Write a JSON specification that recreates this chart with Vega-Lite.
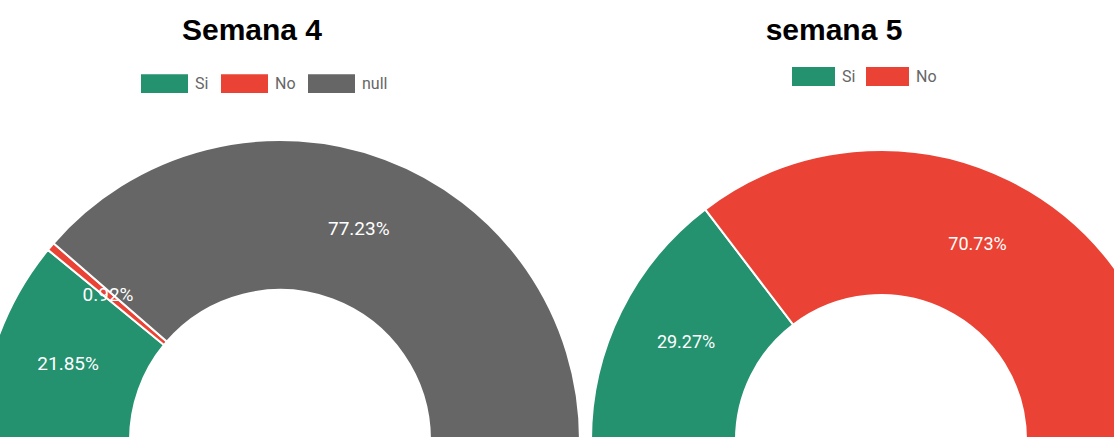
{
  "$schema": "https://vega.github.io/schema/vega-lite/v6.json",
  "background": "white",
  "padding": {"top": 16, "left": -24, "right": 0, "bottom": 0},
  "spacing": 3,
  "config": {"view": {"stroke": null}, "font": "Liberation Sans"},
  "datasets": {
    "semana4": [
      {"respuesta": "Si", "valor": 0.2185, "orden": 1},
      {"respuesta": "No", "valor": 0.0092, "orden": 2},
      {"respuesta": "null", "valor": 0.7723, "orden": 3}
    ],
    "semana5": [
      {"respuesta": "Si", "valor": 0.2927, "orden": 1},
      {"respuesta": "No", "valor": 0.7073, "orden": 2}
    ]
  },
  "resolve": {"scale": {"color": "independent", "theta": "independent", "y": "independent"}, "legend": {"color": "independent"}},
  "hconcat": [
    {
      "width": 600,
      "height": 340,
      "title": {"text": "Semana 4", "fontSize": 30, "fontWeight": "bold", "font": "Liberation Sans", "color": "#000000", "anchor": "middle", "frame": "group", "dx": -28, "offset": 14},
      "data": {"name": "semana4"},
      "encoding": {
        "theta": {"field": "valor", "type": "quantitative", "stack": true, "scale": {"domain": [0, 1], "range": [-1.5708, 1.5708]}},
        "order": {"field": "orden", "type": "quantitative"},
        "y": {"datum": 0, "type": "quantitative", "scale": {"domain": [0, 1]}, "axis": null}
      },
      "layer": [
        {
          "mark": {"type": "arc", "outerRadius": 300, "innerRadius": 150, "stroke": "white", "strokeWidth": 2},
          "encoding": {
            "color": {
              "field": "respuesta", "type": "nominal",
              "scale": {"domain": ["Si", "No", "null"], "range": ["#24916F", "#EA4335", "#666666"]},
              "legend": {"orient": "none", "legendX": 161, "legendY": -40, "direction": "horizontal", "title": null, "symbolType": "M-1,-0.4H1V0.4H-1Z", "symbolSize": 2209, "symbolStrokeWidth": 0, "symbolOpacity": 1, "labelFont": "Roboto", "labelFontSize": 16, "labelColor": "#666666", "labelOffset": 7, "columnPadding": 12, "padding": 0}
            }
          }
        },
        {
          "mark": {"type": "text", "radius": 225, "font": "Roboto", "fontSize": 19, "color": "#FFFFFF"},
          "encoding": {"text": {"field": "valor", "type": "quantitative", "format": ".2%"}}
        }
      ]
    },
    {
      "width": 580,
      "height": 340,
      "title": {"text": "semana 5", "fontSize": 30, "fontWeight": "bold", "font": "Liberation Sans", "color": "#000000", "anchor": "middle", "frame": "group", "dx": -47, "offset": 9},
      "data": {"name": "semana5"},
      "encoding": {
        "theta": {"field": "valor", "type": "quantitative", "stack": true, "scale": {"domain": [0, 1], "range": [-1.5708, 1.5708]}},
        "order": {"field": "orden", "type": "quantitative"},
        "y": {"datum": 0, "type": "quantitative", "scale": {"domain": [0, 1]}, "axis": null}
      },
      "layer": [
        {
          "mark": {"type": "arc", "outerRadius": 290, "innerRadius": 145, "stroke": "white", "strokeWidth": 2},
          "encoding": {
            "color": {
              "field": "respuesta", "type": "nominal",
              "scale": {"domain": ["Si", "No"], "range": ["#24916F", "#EA4335"]},
              "legend": {"orient": "none", "legendX": 201, "legendY": -45, "direction": "horizontal", "title": null, "symbolType": "M-1,-0.44H1V0.44H-1Z", "symbolSize": 1849, "symbolStrokeWidth": 0, "symbolOpacity": 1, "labelFont": "Roboto", "labelFontSize": 16, "labelColor": "#666666", "labelOffset": 7, "columnPadding": 10, "padding": 0}
            }
          }
        },
        {
          "mark": {"type": "text", "radius": 217.5, "font": "Roboto", "fontSize": 18, "color": "#FFFFFF"},
          "encoding": {"text": {"field": "valor", "type": "quantitative", "format": ".2%"}}
        }
      ]
    }
  ]
}
